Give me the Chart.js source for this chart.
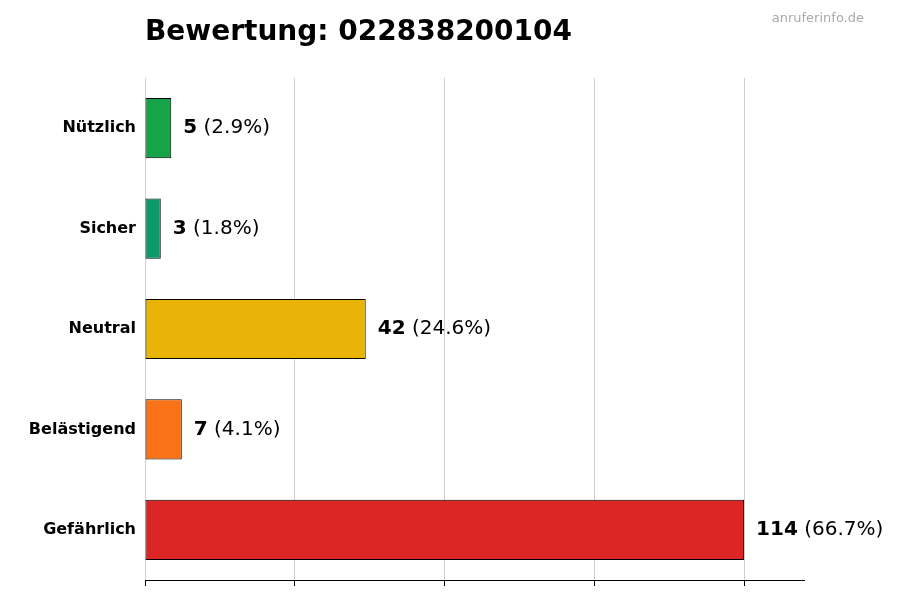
<!DOCTYPE html>
<html><head><meta charset="utf-8">
<script src="https://cdn.jsdelivr.net/npm/chart.js@4"></script>
<style>body{margin:0;background:#fff}</style>
</head><body>
<canvas id="c" width="900" height="600"></canvas>
<script>
const categories = ["Nützlich","Sicher","Neutral","Belästigend","Gefährlich"];
const counts = [5,3,42,7,114];
const percents = ["2.9%","1.8%","24.6%","4.1%","66.7%"];
const colors = ["#16a34a","#0b9a68","#eab308","#f97316","#dc2626"];
const maxV = Math.max(...counts);
const xTicks = [0, maxV*0.25, maxV*0.5, maxV*0.75, maxV];

const labelPlugin = {
  id:'labels',
  afterDatasetsDraw(chart){
    const ctx = chart.ctx;
    const meta = chart.getDatasetMeta(0);
    ctx.save();
    ctx.textBaseline='middle';
    meta.data.forEach((bar,i)=>{
      const x = bar.x + 12, y = bar.y;
      ctx.font='bold 20px "DejaVu Sans"';
      ctx.fillStyle='#000';
      const n = String(counts[i]);
      ctx.fillText(n, x, y);
      const w = ctx.measureText(n).width;
      ctx.font='20px "DejaVu Sans"';
      ctx.fillText(' ('+percents[i]+')', x+w, y);
    });
    ctx.font='bold 28px "DejaVu Sans"';
    ctx.textBaseline='alphabetic';
    ctx.fillText('Bewertung: 022838200104', 145, 40);
    ctx.font='13px "DejaVu Sans"';
    ctx.fillStyle='#aaaaaa';
    ctx.textAlign='right';
    ctx.fillText('anruferinfo.de', 864, 22);
    ctx.restore();
  }
};

new Chart(document.getElementById('c'),{
  type:'bar',
  data:{labels:categories,datasets:[{data:counts,backgroundColor:colors,borderColor:'#000',borderWidth:1,borderSkipped:false,barPercentage:0.6,categoryPercentage:1}]},
  options:{
    indexAxis:'y',responsive:false,animation:false,
    layout:{padding:{top:78,right:96,left:0,bottom:0}},
    plugins:{legend:{display:false},tooltip:{enabled:false}},
    scales:{
      x:{min:0,max:maxV*1.1,
        afterBuildTicks(s){s.ticks=xTicks.map(v=>({value:v}));},
        afterFit(s){s.height=20;},
        ticks:{display:false},
        grid:{color:'#d0d0d0',borderDash:[4,4],tickColor:'#000',tickLength:6,drawTicks:true},
        border:{display:true,color:'#000',width:1,dash:[]}
      },
      y:{
        afterFit(s){s.width=145;},
        ticks:{color:'#000',font:{family:'DejaVu Sans',size:16,weight:'bold'},padding:4},
        grid:{display:false,drawTicks:true,tickLength:5,tickColor:'#000'},
        border:{display:false}
      }
    }
  },
  plugins:[labelPlugin]
});
</script>
</body></html>
